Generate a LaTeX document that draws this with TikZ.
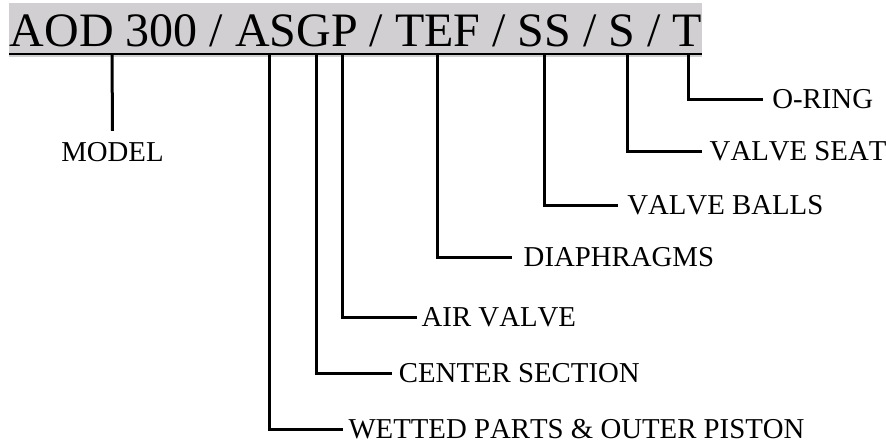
\documentclass[tikz,border=0pt]{standalone}
\usepackage{fontspec}
\setmainfont{Liberation Serif}[Kerning=Off]
\definecolor{bandgray}{RGB}{209,207,209}
\tikzset{
  lead/.style={line width=3pt, line join=miter},
  lbl/.style={anchor=west, inner ysep=0pt, text height=17.4pt, text depth=0pt,
    font=\fontsize{28.8}{34}\selectfont},
}
\begin{document}
\begin{tikzpicture}[x=1pt,y=-1pt]
\useasboundingbox (0,0) rectangle (886,444);
% header band
\fill[bandgray] (9,3) rectangle (702,57.3);
\draw[line width=2.7pt] (9,54) -- (702,54);
\node[anchor=base west, inner sep=0pt, font=\fontsize{48}{58}\selectfont] (code) at (9.5,46.7) {AOD 300 / ASGP / TEF / SS / S / T};
% tick origins
\coordinate (tM) at (112,55);
\coordinate (tW) at (269.8,55);
\coordinate (tC) at (316.8,55);
\coordinate (tA) at (342.3,55);
\coordinate (tD) at (437.5,55);
\coordinate (tB) at (544.7,55);
\coordinate (tS) at (627,55);
\coordinate (tO) at (688.5,55);
% labels
\node[anchor=base, inner xsep=0pt, inner ysep=13.3pt, text height=17.4pt, text depth=0pt,
  font=\fontsize{28.8}{34}\selectfont] (model) at (112.5,161.7) {MODEL};
\node[lbl, inner xsep=5pt] (wet) at (343.3,429.5) {WETTED PARTS \& OUTER PISTON};
\node[lbl, inner xsep=7pt] (cen) at (391.7,373.3) {CENTER SECTION};
\node[lbl, inner xsep=4.8pt] (air) at (416.7,317.7) {AIR VALVE};
\node[lbl, inner xsep=11.8pt] (dia) at (511.7,257.5) {DIAPHRAGMS};
\node[lbl, inner xsep=8.8pt] (bal) at (618.3,205.3) {VALVE BALLS};
\node[lbl, inner xsep=7.8pt] (sea) at (701.7,151.7) {VALVE SEAT};
\node[lbl, inner xsep=8.8pt] (orn) at (763.3,99.3) {O-RING};
% leaders
\draw[lead] (tM) -- (model.north);
\draw[lead] (tW) |- (wet.west);
\draw[lead] (tC) |- (cen.west);
\draw[lead] (tA) |- (air.west);
\draw[lead] (tD) |- (dia.west);
\draw[lead] (tB) |- (bal.west);
\draw[lead] (tS) |- (sea.west);
\draw[lead] (tO) |- (orn.west);
\end{tikzpicture}
\end{document}
